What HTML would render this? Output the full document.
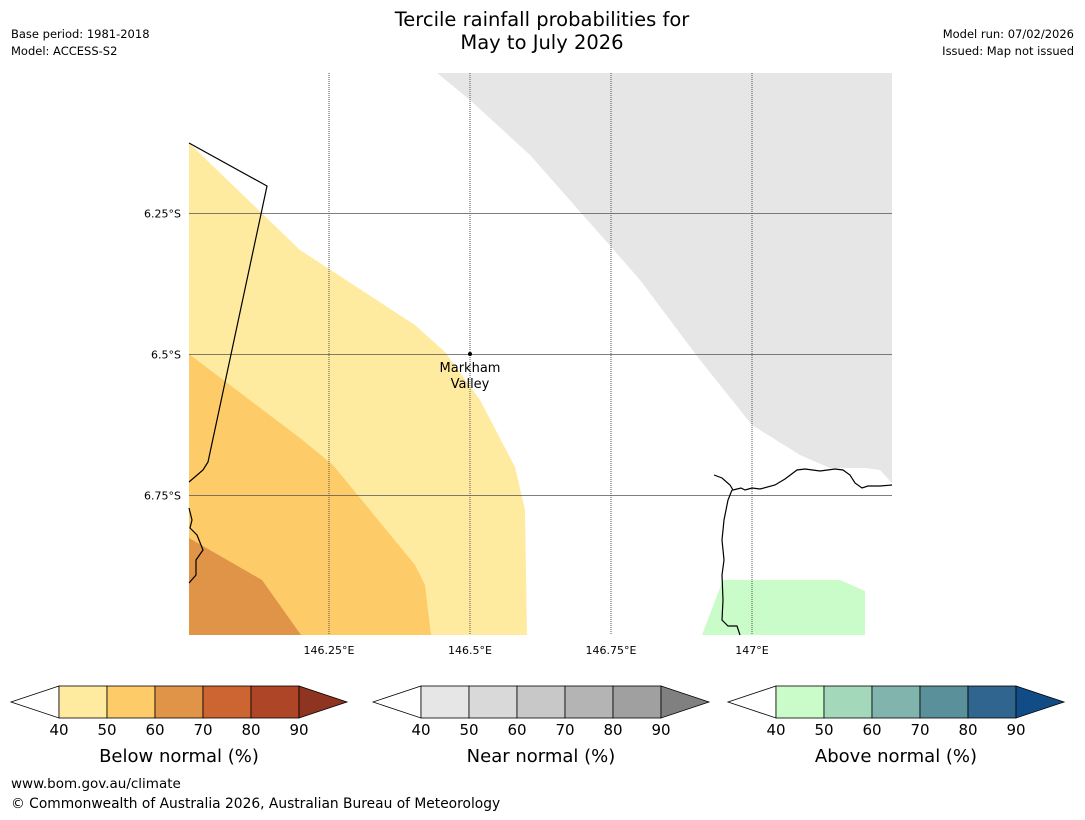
<!DOCTYPE html>
<html><head><meta charset="utf-8"><style>
body{margin:0;background:#fff;font-family:"DejaVu Sans","Liberation Sans",sans-serif}
svg text{font-family:"DejaVu Sans","Liberation Sans",sans-serif}
</style></head><body>
<svg id="s" width="1085" height="816" viewBox="0 0 1085 816" xmlns="http://www.w3.org/2000/svg">
<text x="542" y="26" text-anchor="middle" font-size="19.5">Tercile rainfall probabilities for</text>
<text x="542" y="49" text-anchor="middle" font-size="19.5">May to July 2026</text>
<text x="11" y="38" font-size="11.5">Base period: 1981-2018</text>
<text x="11" y="55" font-size="11.5">Model: ACCESS-S2</text>
<text x="1074" y="38" font-size="11.5" text-anchor="end">Model run: 07/02/2026</text>
<text x="1074" y="55" font-size="11.5" text-anchor="end">Issued: Map not issued</text>
<g>
<path d="M437,73 L892,73 L892,483 L880,470 L865,468 L830,468 L800,455 L752,425 L700,360 L640,280 L605,240 L530,155 L470,100 Z" fill="#e6e6e6"/>
<path d="M189,143 L300,250 L415,325 L445,352 L480,400 L515,467 L525,510 L527,635 L189,635 Z" fill="#ffeba0"/>
<path d="M189,354 L300,438 L333,465 L415,565 L425,585 L431,635 L189,635 Z" fill="#fecb69"/>
<path d="M189,538 L262,580 L301,635 L189,635 Z" fill="#e09448"/>
<path d="M723,580 L840,580 L865,591 L865,635 L702,635 Z" fill="#c9fcc9"/>
<g id="grid"></g>
<path d="M189,143 L267,186 L208,462 L203,470 L189,482" fill="none" stroke="#000" stroke-width="1.2"/>
<path d="M189,508 L192,520 L190,528 L197,535 L203,550 L196,560 L196,575 L189,583" fill="none" stroke="#000" stroke-width="1.2"/>
<path d="M714,475 L722,478 L730,485 L733,490 L741,488 L745,490 L752,488 L760,489 L775,485 L785,479 L797,470 L805,469 L820,471 L835,469 L843,470 L850,475 L855,483 L862,488 L868,486 L880,486 L892,485 M732,490 L728,500 L724,520 L722,540 L724,560 L722,575 L723,600 L722,620 L728,626 L737,626 L740,635" fill="none" stroke="#000" stroke-width="1.2"/>
<circle cx="470" cy="354" r="2" fill="#000"/>
<text x="470" y="372" font-size="13" text-anchor="middle">Markham</text>
<text x="470" y="388" font-size="13" text-anchor="middle">Valley</text>
</g>
<g id="bars"></g>
<text x="11" y="788" font-size="13.5">www.bom.gov.au/climate</text>
<text x="11" y="808" font-size="13.8">© Commonwealth of Australia 2026, Australian Bureau of Meteorology</text>
</svg>
<script>
const lonTicks=[146.25,146.5,146.75,147];
const latTicks=[6.25,6.5,6.75];
const cbTicks=[40,50,60,70,80,90];
const belowColors=["#ffeba0","#fecb69","#e09448","#cd6533","#ae4526","#8e3420"];
const nearColors=["#e6e6e6","#d9d9d9","#c8c8c8","#b4b4b4","#a0a0a0","#808080"];
const aboveColors=["#c9fcc9","#a3d8ba","#80b4ad","#5a909a","#30658f","#124c86"];
const barTitles=["Below normal (%)","Near normal (%)","Above normal (%)"];
const NS="http://www.w3.org/2000/svg";
const X=lon=>329+(lon-146.25)/0.25*141;
const Y=lat=>213+(lat-6.25)/0.25*141;
function mk(t,a,p){const e=document.createElementNS(NS,t);for(const k in a)e.setAttribute(k,a[k]);p.appendChild(e);return e;}
const g=document.getElementById('grid');
lonTicks.forEach(v=>{const x=X(v);
const l=mk('line',{x1:x,x2:x,y1:73,y2:635,stroke:'#555','stroke-width':1,'stroke-dasharray':'1,1'},g);


const t=mk('text',{x:x,y:654,'font-size':11,'text-anchor':'middle'},g);t.textContent=v+'°E';

});
latTicks.forEach(v=>{const y=Y(v)+0.5;
const l=mk('line',{x1:189,x2:892,y1:y,y2:y,stroke:'#555','stroke-width':0.8},g);


const t=mk('text',{x:181,y:y+4,'font-size':11,'text-anchor':'end'},g);t.textContent=v+'°S';

});
const bars=document.getElementById('bars');
[[59,belowColors],[421,nearColors],[776,aboveColors]].forEach(([x0,cols],i)=>{
const w=48,y0=686,h=32,ym=702;
const bg=mk('g',{},bars);


const lt=mk('path',{d:`M${x0},${y0} L${x0-w},${ym} L${x0},${y0+h} Z`,fill:'#fff',stroke:'#000','stroke-width':0.8},bg);


for(let k=0;k<5;k++){const r=mk('rect',{x:x0+k*w,y:y0,width:w,height:h,fill:cols[k],stroke:'#000','stroke-width':0.8},bg);

}
const xe=x0+5*w;
const rt=mk('path',{d:`M${xe},${y0} L${xe+w},${ym} L${xe},${y0+h} Z`,fill:cols[5],stroke:'#000','stroke-width':0.8},bg);


cbTicks.forEach((v,k)=>{const t=mk('text',{x:x0+k*w,y:735,'font-size':15,'text-anchor':'middle'},bg);t.textContent=v;

});
const tt=mk('text',{x:x0+2.5*w,y:762,'font-size':18,'text-anchor':'middle'},bg);tt.textContent=barTitles[i];


});
</script>
</body></html>
